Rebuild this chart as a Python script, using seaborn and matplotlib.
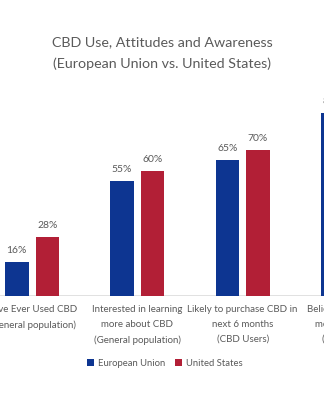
import matplotlib
matplotlib.use("Agg")
import matplotlib.pyplot as plt
from matplotlib.patches import Patch
import seaborn as sns
import pandas as pd

categories = [
    "Have Ever Used CBD\n(General population)",
    "Interested in learning\nmore about CBD\n(General population)",
    "Likely to purchase CBD in\nnext 6 months\n(CBD Users)",
    "Believe CBD offers\nmedicinal value\n(CBD Users)",
]
regions = ["European Union", "United States"]
eu_values = [16, 55, 65, 88]
us_values = [28, 60, 70, 86]

colors = {"European Union": "#0d3591", "United States": "#b21f36"}
text_color = "#5a5a5a"

df = pd.DataFrame({
    "category": categories * 2,
    "region": [regions[0]] * len(categories) + [regions[1]] * len(categories),
    "value": eu_values + us_values,
})

sns.set_theme(style="white")
plt.rcParams["font.family"] = ["Lato", "DejaVu Sans"]

fig = plt.figure(figsize=(3.24, 4.0), dpi=100)
ax = fig.add_axes([-0.0636, 0.261, 1.30, 0.52])

sns.barplot(data=df, x="category", y="value", hue="region", order=categories,
            hue_order=regions, palette=colors, width=0.58, gap=0.23,
            saturation=1, linewidth=0, ax=ax, legend=False)

for container in ax.containers:
    ax.bar_label(container, labels=[f"{v:.0f}%" for v in container.datavalues],
                 padding=5, fontsize=7.5, color=text_color)

ax.set_xlim(-0.5, 3.5)
ax.set_ylim(0, 100)
ax.set_xlabel("")
ax.set_ylabel("")
ax.set_yticks([])
ax.tick_params(axis="x", length=0, pad=7, labelsize=7.0, labelcolor=text_color)
for lbl in ax.get_xticklabels():
    lbl.set_linespacing(1.8)
sns.despine(ax=ax, left=True, bottom=True)
ax.axhline(0, color="#dcdcdc", lw=1.2, zorder=0)

fig.text(0.5, 0.868, "CBD Use, Attitudes and Awareness\n(European Union vs. United States)",
         ha="center", va="center", fontsize=10.3, color=text_color, linespacing=1.85)

handles = [Patch(facecolor=colors[r], edgecolor="none", label=r) for r in regions]
fig.legend(handles=handles, loc="center", bbox_to_anchor=(0.509, 0.0925), ncol=2,
           frameon=False, fontsize=6.8, labelcolor=text_color, handlelength=0.7,
           handleheight=0.7, handletextpad=0.45, columnspacing=1.1)

fig.savefig("out.png", dpi=100)
